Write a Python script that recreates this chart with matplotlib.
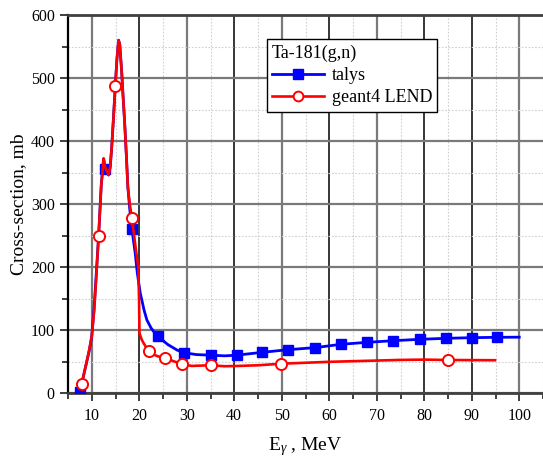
import matplotlib
matplotlib.use("Agg")
import matplotlib.pyplot as plt
from matplotlib.lines import Line2D
from matplotlib.ticker import MultipleLocator

plt.rcParams['font.family'] = ['Liberation Serif', 'DejaVu Serif']
plt.rcParams['mathtext.fontset'] = 'custom'
plt.rcParams['mathtext.rm'] = 'Liberation Serif'
plt.rcParams['mathtext.it'] = 'Liberation Serif:italic'

# ---- data ----
talys_curve_E = [7.5, 8.5, 9.5, 10.0, 10.5, 11.0, 11.45, 12.0, 12.5, 12.85, 13.55, 13.9, 14.2, 14.6,
                 14.95, 15.3, 15.65, 15.9, 16.3, 16.6, 16.9, 17.3, 17.6, 18.0, 18.45, 19.15, 19.6,
                 20.2, 21.0, 21.6, 22.5, 23.3, 23.9, 26.0, 28.0, 29.4, 32.0, 35.0, 38.0, 40.5,
                 45.8, 51.4, 57.0, 62.5, 67.9, 73.5, 79.0, 84.6, 90.0, 95.4, 100.0]
talys_curve_xs = [2, 35, 68, 90, 135, 195, 250, 330, 372, 355, 346, 360, 390, 440,
                  487, 530, 560, 553, 510, 470, 433, 375, 327, 292, 260, 222, 190,
                  159, 132, 116, 103, 95, 90, 77, 68, 64, 61, 60, 59, 60,
                  64.5, 68.8, 72, 77.3, 80.4, 83, 85.2, 86.8, 87.8, 88.4, 88.6]
talys_marker_E = [7.5, 12.85, 18.45, 23.9, 29.4, 35.0, 40.5, 45.8, 51.4, 57.0, 62.5, 67.9,
                  73.5, 79.0, 84.6, 90.0, 95.4]
talys_marker_xs = [2, 355, 260, 90, 64, 60, 60, 64.5, 68.8, 72, 77.3, 80.4,
                   83, 85.2, 86.8, 87.8, 88.4]

geant_curve_E = [7.9, 8.5, 9.0, 9.5, 10.0, 10.5, 11.0, 11.45, 12.0, 12.5, 12.85, 13.55, 13.9, 14.2,
                 14.6, 14.95, 15.3, 15.65, 15.9, 16.3, 16.6, 16.9, 17.3, 17.6, 18.0, 18.45, 19.3,
                 19.8, 19.95, 20.05, 20.5, 21.0, 21.95, 23.0, 24.0, 25.5, 27.0, 29.0, 31.0, 35.0,
                 38.0, 41.0, 45.0, 49.9, 55.0, 60.0, 65.0, 70.0, 75.0, 80.0, 84.9, 90.0, 94.9]
geant_curve_xs = [15, 35, 52, 70, 90, 130, 190, 250, 330, 372, 358, 346, 360, 390,
                  440, 487, 530, 560, 553, 510, 470, 433, 375, 327, 300, 278, 227,
                  200, 150, 95, 85, 78, 67, 61, 58, 56, 51, 46, 43, 44,
                  42.5, 43, 44, 46.5, 48, 49.5, 50.5, 51.5, 52.5, 53, 52.4, 52.2, 52]
geant_marker_E = [7.9, 11.45, 14.95, 18.45, 21.95, 25.5, 29.0, 35.0, 49.9, 84.9]
geant_marker_xs = [15, 250, 487, 278, 67, 56, 46, 44, 46.5, 52.4]

legend_title = 'Ta-181(g,n)'
series_labels = ['talys', 'geant4 LEND']

# ---- figure ----
fig = plt.figure(figsize=(5.43, 4.59), dpi=100)
ax = fig.add_axes([68/543, 66/459, 475/543, 378/459])

ax.set_xlim(5, 105)
ax.set_ylim(0, 600)
ax.xaxis.set_major_locator(MultipleLocator(10))
ax.xaxis.set_minor_locator(MultipleLocator(5))
ax.yaxis.set_major_locator(MultipleLocator(100))
ax.yaxis.set_minor_locator(MultipleLocator(50))
ax.set_xticks(range(10, 101, 10))

ax.grid(which='major', color='#7a7a7a', lw=1.6, zorder=0)
ax.grid(which='minor', color='#d0d0d0', lw=0.8, ls=(0, (1.5, 1.5)), zorder=0)
ax.set_axisbelow(True)
xcols = ['#7a7a7a', '#000000', '#7a7a7a', '#000000', '#7a7a7a', '#000000',
         '#7a7a7a', '#000000', '#000000', '#7a7a7a']
for ln, c in zip(ax.xaxis.get_gridlines(), xcols):
    ln.set_color(c)
    ln.set_linewidth(1.6 if c != '#000000' else 1.1)

ax.plot(talys_curve_E, talys_curve_xs, color='#0000ff', lw=2.0, zorder=3)
ax.plot(talys_marker_E, talys_marker_xs, ls='none', marker='s', ms=7.5, color='#0000ff', zorder=4)
ax.plot(geant_curve_E, geant_curve_xs, color='#ff0000', lw=1.9, zorder=5)
ax.plot(geant_marker_E, geant_marker_xs, ls='none', marker='o', ms=8, mfc='white',
        mec='#ff0000', mew=1.4, zorder=6)

for s in ['top', 'bottom']:
    ax.spines[s].set_color('#404040')
    ax.spines[s].set_linewidth(2.0)
ax.spines['left'].set_color('black')
ax.spines['left'].set_linewidth(1.6)
ax.spines['right'].set_visible(False)

ax.tick_params(which='major', direction='out', length=6, width=1.3, labelsize=11.5, color='#303030')
ax.tick_params(which='minor', direction='out', length=4, width=1.3, color='#303030')
ax.tick_params(axis='x', pad=5)

ax.set_xlabel(r'E$_{\gamma}$ , MeV', fontsize=14, labelpad=8)
ax.set_ylabel('Cross-section, mb', fontsize=14, labelpad=3)

handles = [Line2D([], [], color='#0000ff', lw=2.0, marker='s', ms=7),
           Line2D([], [], color='#ff0000', lw=1.9, marker='o', ms=7, mfc='white', mec='#ff0000', mew=1.4)]
leg = ax.legend(handles, series_labels, title=legend_title, loc='upper left',
                bbox_to_anchor=(0.418, 0.937), fontsize=13, title_fontsize=13,
                frameon=True, fancybox=False, edgecolor='black', framealpha=1,
                handlelength=2.9, handletextpad=0.4, labelspacing=0.3,
                borderpad=0.3, borderaxespad=0)
leg._legend_box.align = 'left'
leg.get_frame().set_linewidth(1.0)
leg.set_zorder(10)

fig.savefig('out.png', dpi=100)
